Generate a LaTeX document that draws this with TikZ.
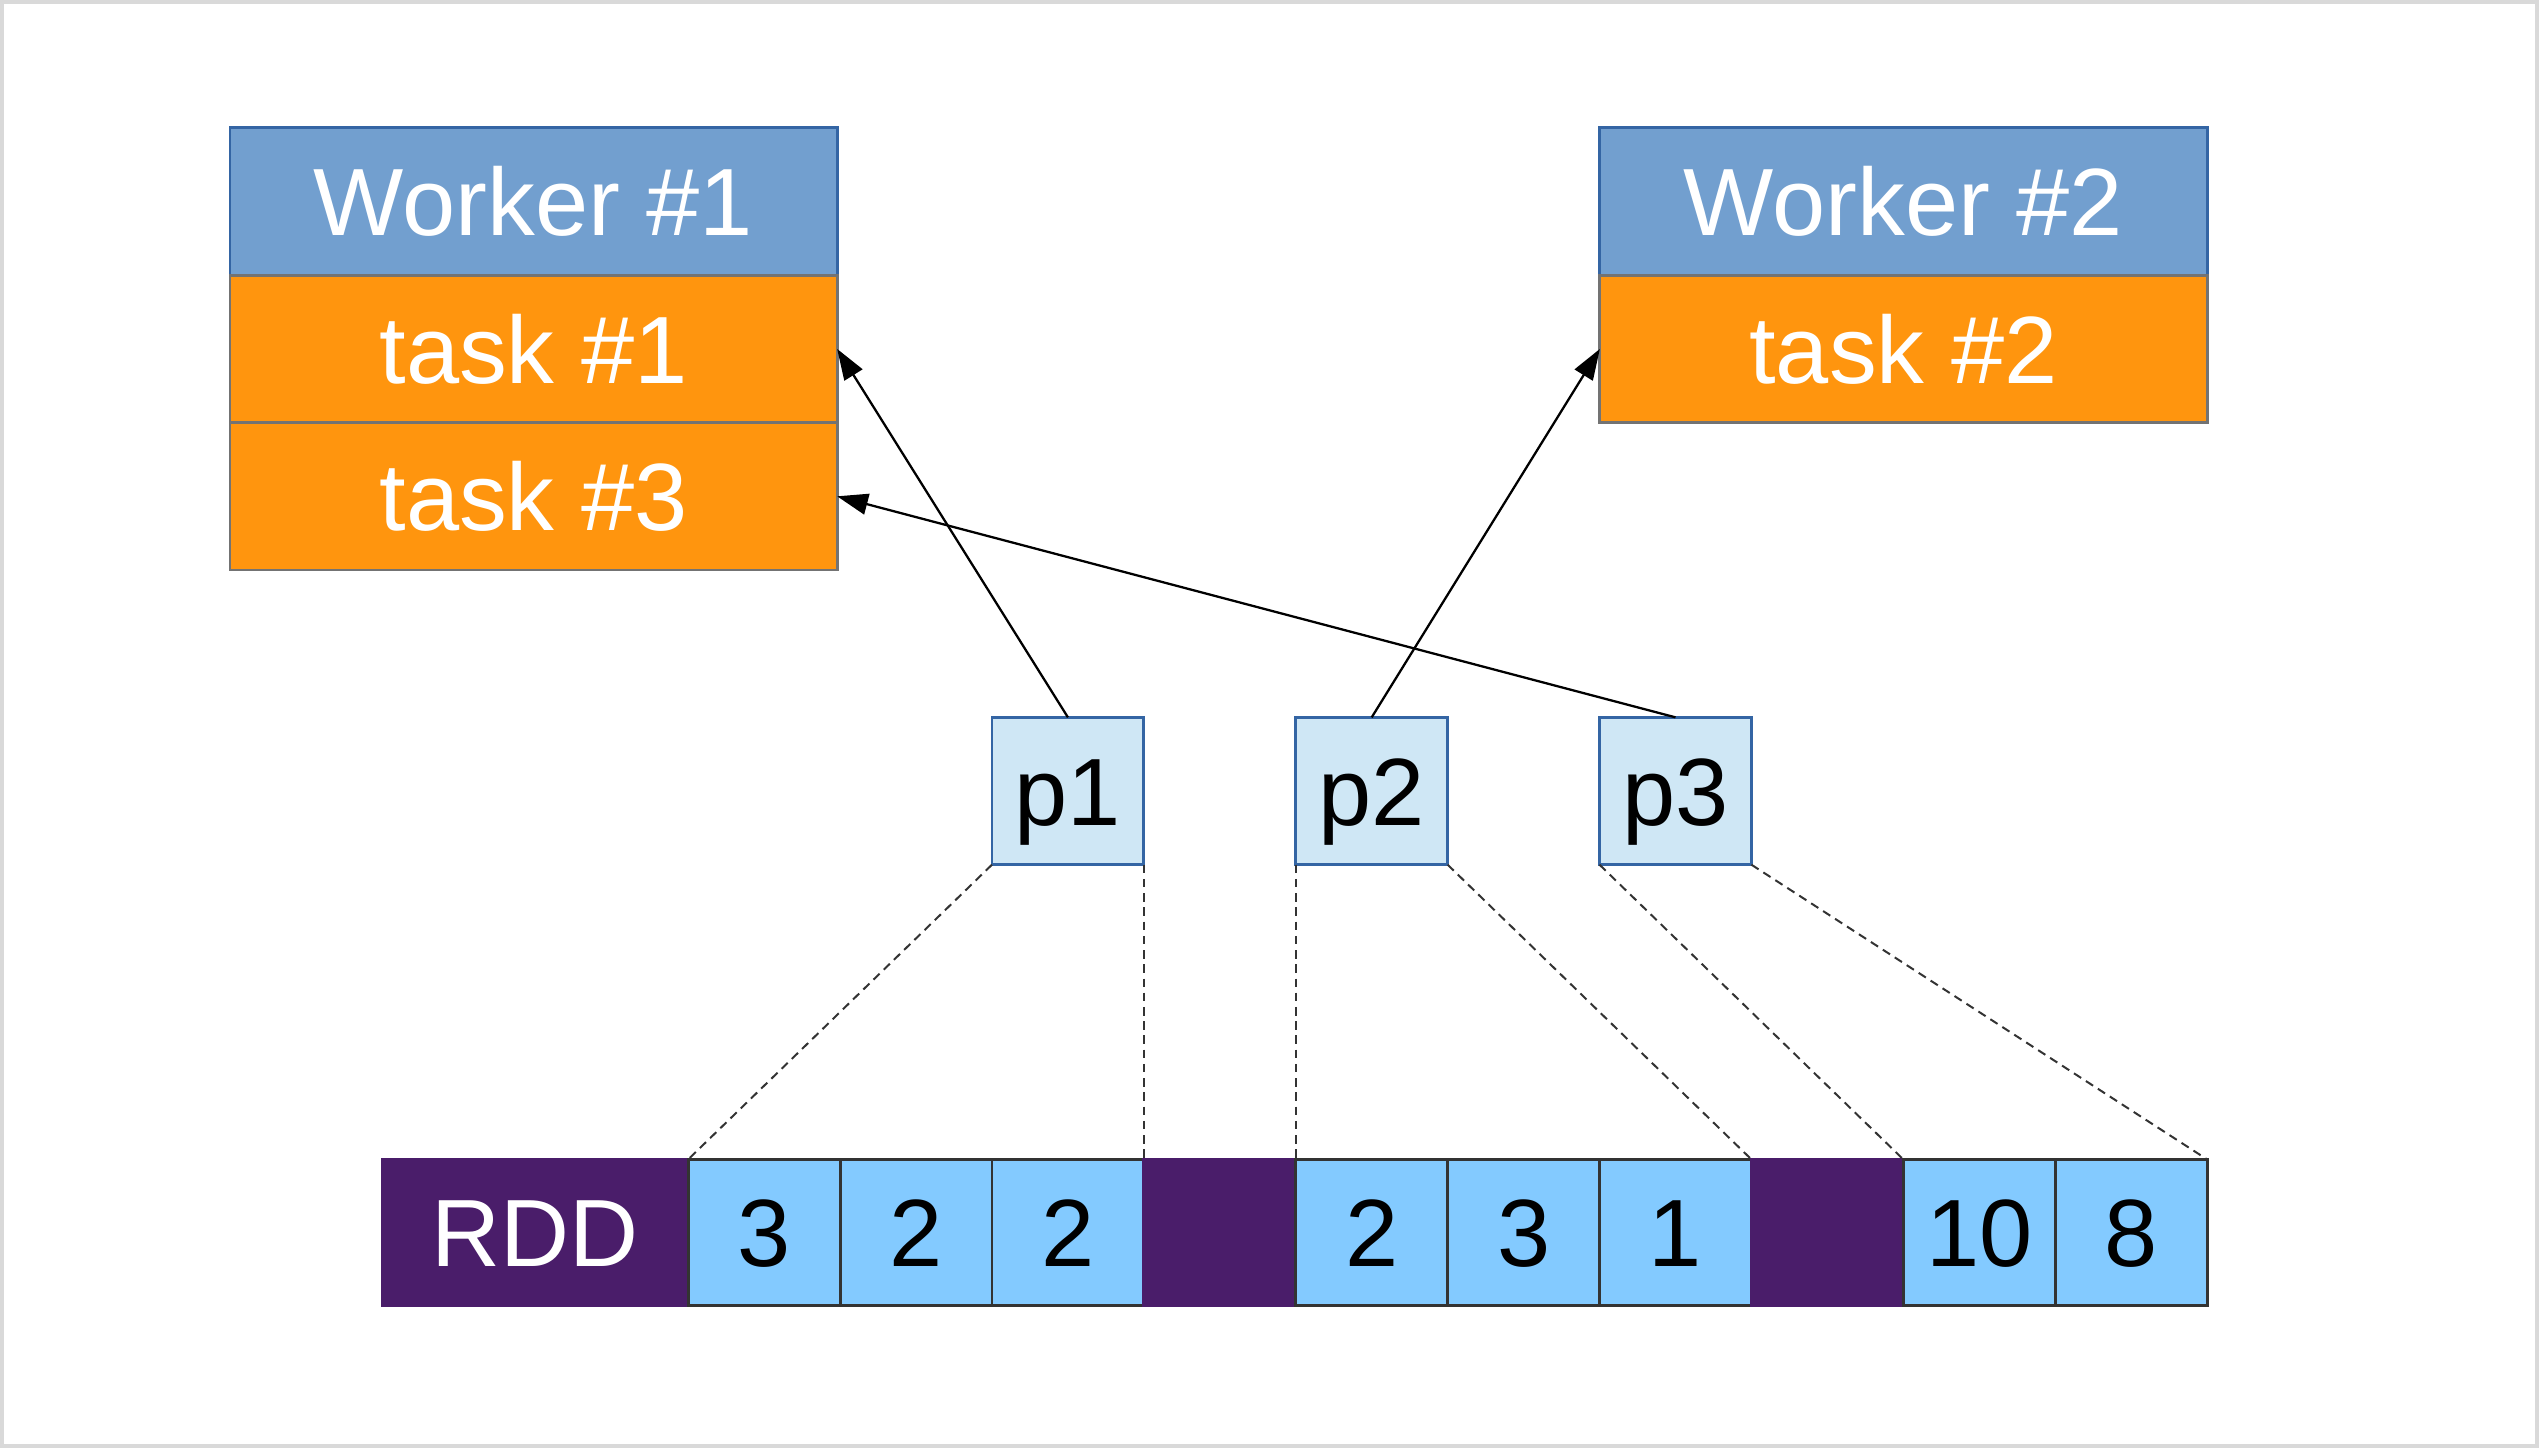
\documentclass[tikz,border=0pt]{standalone}
\usepackage{fontspec}
\setmainfont{Liberation Sans}
\usetikzlibrary{positioning,arrows.meta}

\definecolor{workerblue}{HTML}{729FCF}
\definecolor{taskorange}{HTML}{FF950E}
\definecolor{cellblue}{HTML}{83CAFF}
\definecolor{rddpurple}{HTML}{4A1D6A}
\definecolor{partblue}{HTML}{CFE7F5}
\definecolor{edgeblue}{HTML}{3465A4}
\definecolor{framegray}{HTML}{D9D9D9}

\tikzset{
	box/.style={draw, inner sep=0pt, outer sep=0pt, line width=0.5pt,
		font=\fontsize{16.8pt}{20pt}\selectfont, text height=12pt, text depth=0pt},
	worker/.style={box, fill=workerblue, draw=edgeblue, text=white,
		minimum width=3.75cm, minimum height=0.91cm},
	task/.style={box, fill=taskorange, draw=black!55, text=white,
		minimum width=3.75cm, minimum height=0.91cm},
	rdd/.style={box, fill=rddpurple, draw=rddpurple, text=white,
		minimum width=1.89cm, minimum height=0.9cm},
	cell/.style={box, fill=cellblue, draw=black!80,
		minimum width=0.938cm, minimum height=0.9cm},
	gap/.style={rdd, minimum width=0.938cm},
	part/.style={box, fill=partblue, draw=edgeblue,
		minimum width=0.938cm, minimum height=0.91cm},
	flow/.style={-{Triangle[length=1.9mm,width=1.3mm]}, line width=0.4pt},
	split/.style={black!80, line width=0.35pt, dash pattern=on 1.5pt off 1pt}
}

\begin{document}
\begin{tikzpicture}
	\useasboundingbox (0,0) rectangle (15.68,8.94);
	\draw[framegray, line width=0.7pt] (0.0125,0.0125) rectangle (15.6675,8.9275);

	% workers
	\node[worker] (w1) at (3.295,7.695) {Worker \#1};
	\node[task, below=0pt of w1] (t1) {task \#1};
	\node[task, below=0pt of t1] (t3) {task \#3};
	\node[worker] (w2) at (11.755,7.695) {Worker \#2};
	\node[task, below=0pt of w2] (t2) {task \#2};

	% the RDD
	\node[rdd] (rdd) at (3.305,1.33) {RDD};
	\node[cell, right=0pt of rdd] (c1) {3};
	\node[cell, right=0pt of c1] (c2) {2};
	\node[cell, right=0pt of c2] (c3) {2};
	\node[gap, right=0pt of c3] (g1) {};
	\node[cell, right=0pt of g1] (c4) {2};
	\node[cell, right=0pt of c4] (c5) {3};
	\node[cell, right=0pt of c5] (c6) {1};
	\node[gap, right=0pt of c6] (g2) {};
	\node[cell, right=0pt of g2] (c7) {10};
	\node[cell, right=0pt of c7] (c8) {8};

	% partitions
	\node[part, above=1.82cm of c3] (p1) {p1};
	\node[part, above=1.82cm of c4] (p2) {p2};
	\node[part, above=1.82cm of c6] (p3) {p3};

	\draw[split] (p1.south west) -- (c1.north west);
	\draw[split] (p1.south east) -- (c3.north east);
	\draw[split] (p2.south west) -- (c4.north west);
	\draw[split] (p2.south east) -- (c6.north east);
	\draw[split] (p3.south west) -- (c7.north west);
	\draw[split] (p3.south east) -- (c8.north east);

	\draw[flow] (p1.north) -- (t1.east);
	\draw[flow] (p2.north) -- (t2.west);
	\draw[flow] (p3.north) -- (t3.east);
\end{tikzpicture}
\end{document}
